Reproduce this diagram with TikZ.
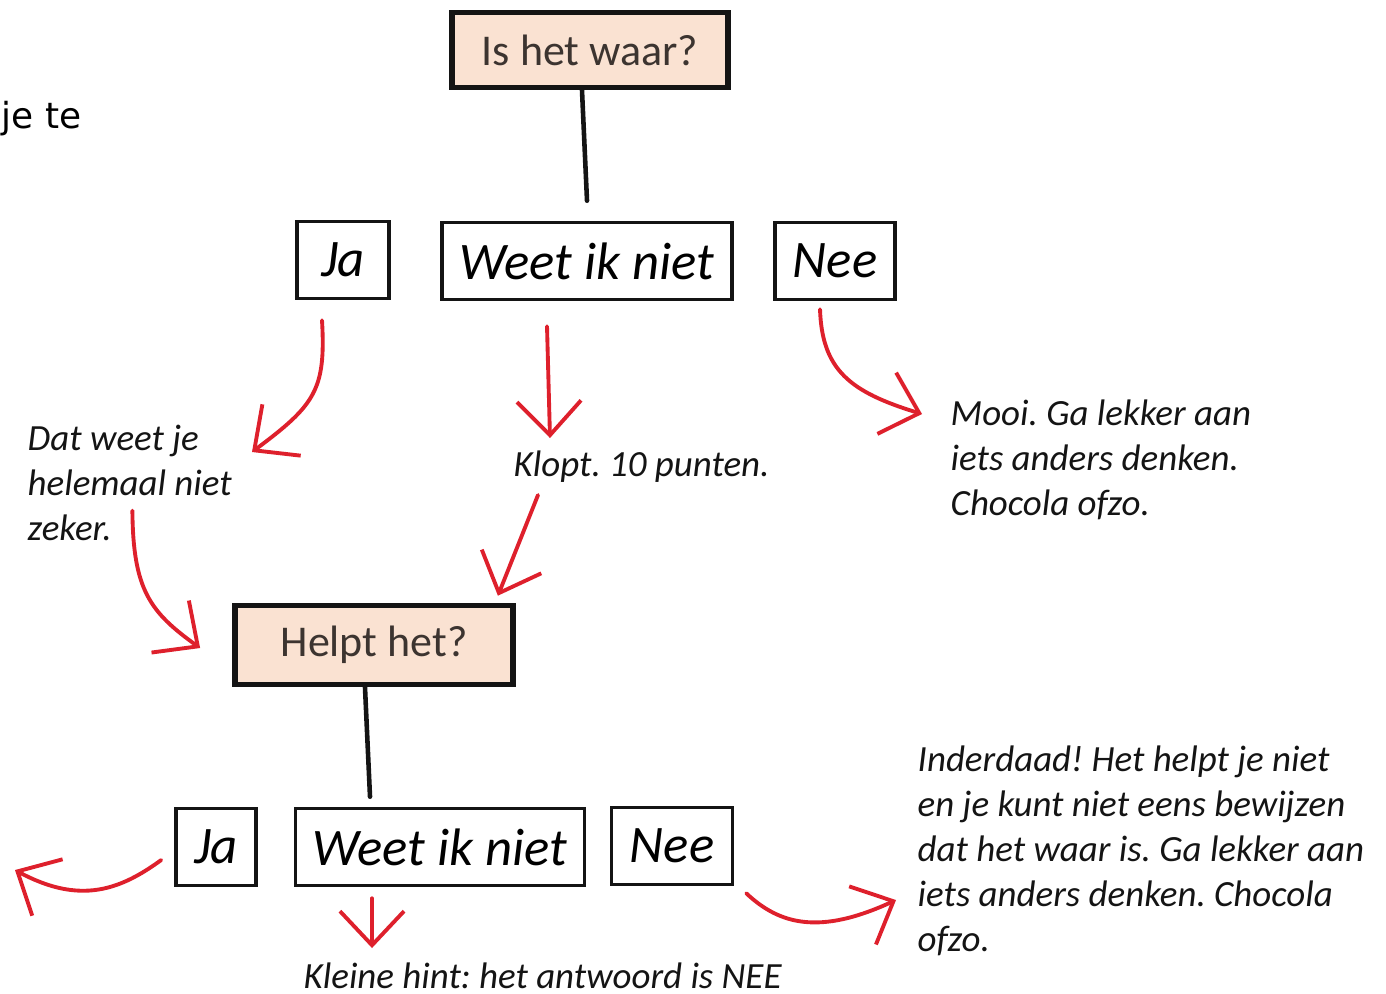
\documentclass[tikz,border=0pt]{standalone}
\usepackage{fontspec}
\setmainfont{Carlito}
\newfontfamily\versefont{DejaVu Sans}
\usepackage{tikz}
\usetikzlibrary{arrows.meta, positioning, calc}
\frenchspacing
\definecolor{myred}{RGB}{222,32,44}
\definecolor{mydark}{RGB}{20,20,20}
\definecolor{hand}{RGB}{60,52,48}
\definecolor{hdrpeach}{RGB}{250,226,210}
\tikzset{
  qbox/.style={rectangle, draw=mydark, fill=hdrpeach, line width=1.6pt,
    inner sep=0pt, font=\fontsize{12.5}{15}\selectfont\color{hand}},
  ansbox/.style={rectangle, draw=mydark, line width=1pt, inner sep=0pt,
    minimum height=0.77cm, font=\fontsize{15}{18}\selectfont\itshape},
  note/.style={inner sep=0pt, align=left,
    font=\fontsize{10.5}{12.8}\selectfont\itshape, text=mydark},
  redarrow/.style={-{Straight Barb[length=3.4mm, width=6.4mm]},
    line width=1.1pt, color=myred, line cap=round},
  line/.style={line width=1.3pt, color=mydark, line cap=round}
}

\begin{document}
\begin{tikzpicture}[x=0.01cm, y=-0.01cm]
  \useasboundingbox (0,0) rectangle (1386,993);

  % leftover text from the page
  \node[inner sep=0pt, anchor=base east, font=\versefont\fontsize{10.2}{12}\selectfont] (jete) at (82,128) {je te};

  % first question
  \node[qbox, minimum width=2.76cm, minimum height=0.75cm] (q1) at (590,50) {Is het waar?};
  \node[ansbox, minimum width=0.92cm] (ja1) at (343,260) {Ja};
  \node[ansbox, minimum width=2.90cm] (wk1) at (587,261) {Weet ik niet};
  \node[ansbox, minimum width=1.20cm] (nee1) at (835,261) {Nee};
  \draw[line] ([xshift=-0.08cm]q1.south) -- ([yshift=0.2cm]wk1.north);

  \node[note, anchor=north west] (dat) at (27,424) {Dat weet je\\helemaal niet\\zeker.};
  \node[note, anchor=base west] (klopt) at (513,476) {Klopt. 10 punten.};
  \node[note, anchor=north west] (mooi) at (950,399) {Mooi. Ga lekker aan\\iets anders denken.\\Chocola ofzo.};

  \coordinate (datin) at (252,452);
  \coordinate (kloptin) at (550,438);
  \coordinate (mooiin) at (922,414);
  \draw[redarrow] ([shift={(-21,20)}]ja1.south) .. controls (326,390) and (315,405) .. (datin);
  \draw[redarrow] ([shift={(-40,25)}]wk1.south) -- (kloptin);
  \draw[redarrow] ([shift={(-15,8)}]nee1.south) .. controls (822,370) and (850,392) .. (mooiin);

  % second question
  \node[qbox, minimum width=2.78cm, minimum height=0.79cm] (q2) at (374,645) {Helpt het?};
  \draw[redarrow] ([shift={(-100,28)}]dat.east) .. controls (133,590) and (150,612) .. ([shift={(-32,3)}]q2.west);
  \draw[redarrow] ([shift={(25,19)}]klopt.base west) -- ([shift={(-18,-7)}]q2.north east);

  \node[ansbox, minimum width=0.80cm] (ja2) at (216,847) {Ja};
  \node[ansbox, minimum width=2.89cm] (wk2) at (440,847) {Weet ik niet};
  \node[ansbox, minimum width=1.21cm] (nee2) at (672,846) {Nee};
  \draw[line] ([xshift=-0.09cm]q2.south) -- ([shift={(-70,-10)}]wk2.north);

  \node[note, anchor=base west] (hint) at (303,988) {Kleine hint: het antwoord is NEE};
  \node[note, anchor=north west] (inder) at (917,745) {Inderdaad! Het helpt je niet\\en je kunt niet eens bewijzen\\dat het waar is. Ga lekker aan\\iets anders denken. Chocola\\ofzo.};

  \coordinate (jaout) at (15,870);
  \coordinate (hintin) at (372,948);
  \coordinate (inderin) at (896,900);
  \draw[redarrow] ([shift={(-13,13)}]ja2.west) .. controls (120,890) and (80,905) .. (jaout);
  \draw[redarrow] ([shift={(-68,11)}]wk2.south) -- (hintin);
  \draw[redarrow] ([shift={(12,7)}]nee2.south east) .. controls (780,925) and (820,935) .. (inderin);
\end{tikzpicture}
\end{document}
